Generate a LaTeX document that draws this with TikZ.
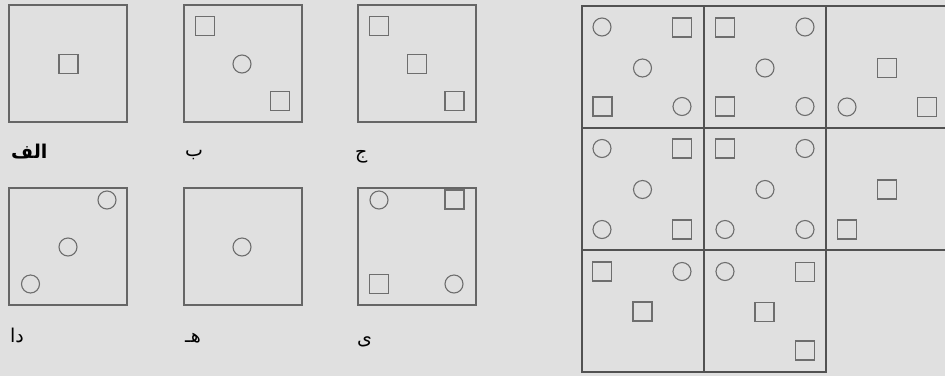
\documentclass[tikz,border=0pt]{standalone}
\usepackage{fontspec}
\newfontfamily\arabicfont[Script=Arabic]{DejaVu Sans}
\TeXXeTstate=1
\begin{document}
\begin{tikzpicture}[x=1pt,y=-1pt,
  frame/.style={draw=black!60,line width=1.3pt},
  gridline/.style={draw=black!68,line width=1.4pt},
  elem/.style={draw=black!57,line width=1.1pt},
  lbl/.style={anchor=base west,inner sep=0pt,font=\arabicfont\fontsize{19}{22}\selectfont,text=black}]
\newcommand{\mysq}[2]{\draw[elem] ({#1-9.5},{#2-9.5}) rectangle ({#1+9.5},{#2+9.5});}
\newcommand{\mycirc}[2]{\draw[elem] (#1,#2) circle[radius=9];}
% background
\fill[black!12] (0,0) rectangle (945,376);
\useasboundingbox (0,0) rectangle (945,376);
% left panel: six small squares
\draw[frame] (9,5) rectangle (127,122);
\mysq{68.5}{64}
\draw[frame] (184,5) rectangle (302,122);
\mysq{205}{26} \mycirc{242}{64} \mysq{280}{101}
\draw[frame] (358,5) rectangle (476,122);
\mysq{379}{26} \mysq{417}{64} \mysq{454.5}{101}
\draw[frame] (9,188) rectangle (127,305);
\mycirc{107}{200} \mycirc{68}{247} \mycirc{30.5}{284}
\draw[frame] (184,188) rectangle (302,305);
\mycirc{242}{247}
\draw[frame] (358,188) rectangle (476,305);
\mycirc{379}{200} \mysq{454.5}{199.5} \mysq{379}{284} \mycirc{454}{284}
% labels
\node[lbl,font=\arabicfont\bfseries\fontsize{19}{22}\selectfont] (la) at (11,158) {\beginR الف\endR};
\node[lbl] (lb) at (185,156) {\beginR ب\endR};
\node[lbl] (lc) at (355,158) {\beginR ج\endR};
\node[lbl] (ld) at (10,342) {\beginR دا\endR};
\node[lbl] (le) at (185,342) {\beginR هـ\endR};
\node[lbl] (lf) at (357,344) {\beginR ی\endR};
% right grid
\draw[gridline] (945,6) -- (582,6) -- (582,372) -- (826,372) -- (826,6);
\draw[gridline] (704,6) -- (704,372);
\draw[gridline] (582,128) -- (945,128);
\draw[gridline] (582,250) -- (945,250);
% row 1
\mycirc{602}{27} \mysq{682}{27.5} \mycirc{642.5}{68} \mysq{602.5}{106.5} \mycirc{682}{106.5}
\mysq{725}{27.5} \mycirc{805}{27} \mycirc{765}{68} \mysq{725}{106.5} \mycirc{805}{106.5}
\mysq{887}{68} \mycirc{847}{107} \mysq{927}{107}
% row 2
\mycirc{602}{148.5} \mysq{682}{148.5} \mycirc{642.5}{189.5} \mycirc{602}{229.5} \mysq{682}{229.5}
\mysq{725}{148.5} \mycirc{805}{148.5} \mycirc{765}{189.5} \mycirc{725}{229.5} \mycirc{805}{229.5}
\mysq{887}{189.5} \mysq{847}{229.5}
% row 3
\mysq{602}{271.5} \mycirc{682}{271.5} \mysq{642.5}{311.5}
\mycirc{725}{271.5} \mysq{805}{272} \mysq{764.5}{312} \mysq{805}{350.5}
\end{tikzpicture}
\end{document}
